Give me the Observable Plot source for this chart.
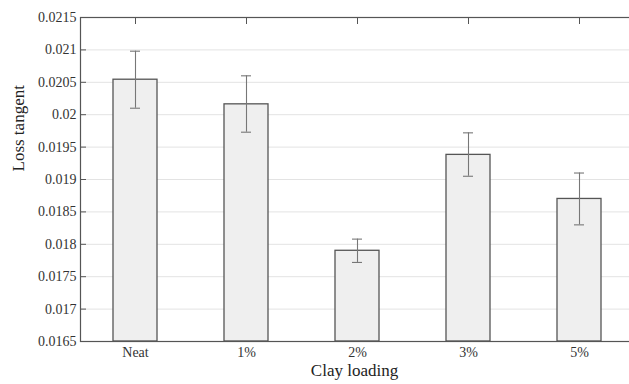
<!DOCTYPE html>
<html>
<head>
<meta charset="utf-8">
<script src="https://cdn.jsdelivr.net/npm/d3@7"></script>
<script src="https://cdn.jsdelivr.net/npm/@observablehq/plot@0.6"></script>
<style>
  html, body { margin: 0; padding: 0; background: #fff; overflow: hidden; }
  #wrap { width: 629px; height: 384px; overflow: hidden; }
  #wrap svg { max-width: none !important; width: 636px !important; height: 384px !important; }
  #wrap svg, #wrap svg text { font-family: "Liberation Serif", "Times New Roman", serif !important; }
</style>
</head>
<body>
<div id="wrap"></div>
<script>
const categories = ["Neat", "1%", "2%", "3%", "5%"];
const values = [0.02054, 0.02016, 0.01790, 0.01938, 0.01870];
const errLow = [0.02010, 0.01973, 0.01772, 0.01905, 0.01830];
const errHigh = [0.02098, 0.02060, 0.01808, 0.01972, 0.01910];
const yTicks = [0.0165, 0.017, 0.0175, 0.018, 0.0185, 0.019, 0.0195, 0.02, 0.0205, 0.021, 0.0215];
const xLabel = "Clay loading";
const yLabel = "Loss tangent";

const data = categories.map((c, i) => ({cat: c, v: values[i], lo: errLow[i], hi: errHigh[i]}));
const fmt = d => String(+d.toFixed(4));
const font = "Liberation Serif";

const chart = Plot.plot({
  width: 636,
  height: 384,
  marginLeft: 80,
  marginRight: 0,
  marginTop: 17,
  marginBottom: 43,
  style: {fontFamily: "'Liberation Serif', serif", fontSize: "14px", color: "#333", background: "#fff"},
  x: {domain: categories, range: [80, 635], paddingInner: 0.6, paddingOuter: 0.3, label: null},
  y: {domain: [0.0165, 0.0215], label: null},
  marks: [
    Plot.gridY(yTicks, {stroke: "#e3e3e3", strokeOpacity: 1}),
    Plot.axisY(yTicks, {anchor: "left", tickSize: 0, tickPadding: 4, tickFormat: fmt, fontSize: 14, fontFamily: font, fill: "#333", label: null}),
    Plot.axisY(yTicks, {anchor: "left", tickSize: 6, dx: 6, tickFormat: () => "", stroke: "#555", label: null}),
    Plot.axisX({anchor: "top", tickSize: 6, dy: 6, tickFormat: () => "", stroke: "#555", label: null}),
    Plot.axisX({anchor: "bottom", tickSize: 0, tickPadding: 6, fontSize: 14, fontFamily: font, fill: "#333", label: null}),
    Plot.barY(data, {x: "cat", y1: 0.0165, y2: "v", fill: "#efefef", stroke: "#555", strokeWidth: 1.3}),
    Plot.ruleX(data, {x: "cat", y1: "lo", y2: "hi", stroke: "#777", strokeWidth: 1.1}),
    Plot.tickY(data, {x: "cat", y: "lo", stroke: "#777", strokeWidth: 1.1, insetLeft: 17, insetRight: 17}),
    Plot.tickY(data, {x: "cat", y: "hi", stroke: "#777", strokeWidth: 1.1, insetLeft: 17, insetRight: 17}),
    Plot.frame({stroke: "#555", strokeWidth: 1.2}),
    Plot.text([yLabel], {frameAnchor: "left", rotate: -90, dx: -62, dy: -8, text: d => d, fontSize: 17, fontFamily: font, fill: "#222"}),
    Plot.text([xLabel], {frameAnchor: "bottom", dx: -4, dy: 34, text: d => d, fontSize: 17, fontFamily: font, fill: "#222"})
  ]
});
document.getElementById("wrap").appendChild(chart);
</script>
</body>
</html>
